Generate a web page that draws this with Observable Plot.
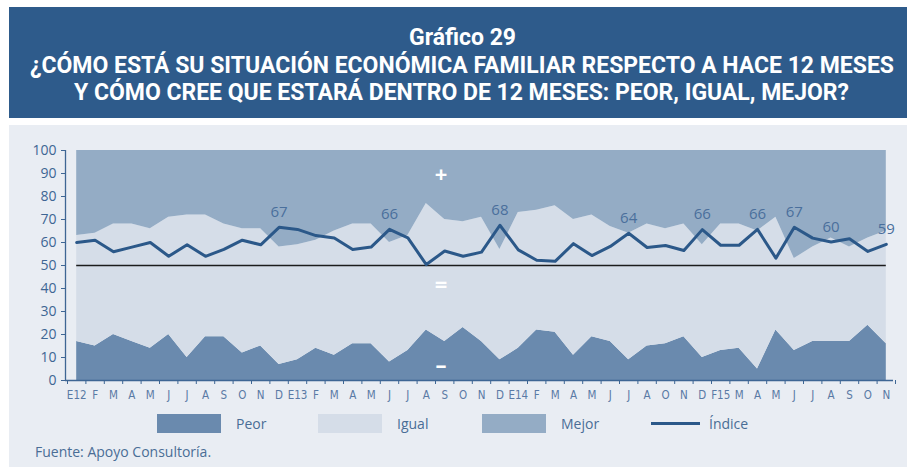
<!DOCTYPE html>
<html>
<head>
<meta charset="utf-8">
<script src="https://cdn.jsdelivr.net/npm/d3@7"></script>
<script src="https://cdn.jsdelivr.net/npm/@observablehq/plot@0.6"></script>
<style>
  html, body { margin: 0; padding: 0; background: #ffffff; }
  body { width: 907px; height: 467px; position: relative; overflow: hidden; font-family: "Open Sans", sans-serif; }
  #header { position: absolute; left: 0; top: 0; }
  #panel { position: absolute; left: 9px; top: 125px; width: 898px; height: 342px; background: #e9edf3; }
  #chart { position: absolute; left: 0; top: 124px; }
  #legend { position: absolute; left: 0; top: 414px; width: 907px; height: 20px; font-size: 14px; color: #4a6d96; }
  .sw { position: absolute; top: 0; width: 64px; height: 19px; }
  .lt { position: absolute; top: 0; line-height: 19px; }
  .ln { position: absolute; top: 8px; width: 49px; height: 3px; background: #2b5889; }
  #source { position: absolute; left: 35px; top: 442px; font-size: 14px; color: #4a6d96; }
</style>
</head>
<body>
<svg id="header" width="907" height="124" xmlns="http://www.w3.org/2000/svg">
  <rect x="9" y="7" width="898" height="111" fill="#2e5b8b"></rect>
  <g fill="#ffffff" font-family="Roboto, Open Sans, sans-serif" font-weight="bold" font-size="23">
    <text x="462.5" y="45" text-anchor="middle" textLength="107" lengthAdjust="spacingAndGlyphs">Gráfico 29</text>
    <text x="462" y="73" text-anchor="middle" textLength="864" lengthAdjust="spacingAndGlyphs">¿CÓMO ESTÁ SU SITUACIÓN ECONÓMICA FAMILIAR RESPECTO A HACE 12 MESES</text>
    <text x="461.5" y="100" text-anchor="middle" textLength="775" lengthAdjust="spacingAndGlyphs">Y CÓMO CREE QUE ESTARÁ DENTRO DE 12 MESES: PEOR, IGUAL, MEJOR?</text>
  </g>
</svg>
<div id="panel"></div>
<div id="chart"></div>
<div id="legend"></div>
<div id="source">Fuente: Apoyo Consultoría.</div>
<script>
// Month labels (2014 has no September, 2015 has no January)
const months = ["E12","F","M","A","M","J","J","A","S","O","N","D",
  "E13","F","M","A","M","J","J","A","S","O","N","D",
  "E14","F","M","A","M","J","J","A","O","N","D",
  "F15","M","A","M","J","J","A","S","O","N"];

const peor = [17,15,20,17,14,20,10,19,19,12,15,7,
  9,14,11,16,16,8,13,22,17,23,17,9,
  14,22,21,11,19,17,9,15,16,19,10,
  13,14,5,22,13,17,17,17,24,16];

const igual = [46,49,48,51,52,51,62,53,49,54,51,51,
  50,47,54,52,52,52,50,55,53,46,54,48,
  59,52,55,59,53,50,55,53,50,49,49,
  55,54,60,49,40,41,45,41,38,49];

const mejor = [37,36,32,32,34,29,28,28,32,34,34,42,
  41,39,35,32,32,40,37,23,30,31,29,43,
  27,26,24,30,28,33,36,32,34,32,41,
  32,32,35,29,47,42,38,42,38,35];

const indice = [60,61,56,58,60,54,59,54,57,61,59,66.6,
  65.7,63,62,57,58,65.7,62,50.4,56.3,54,55.8,67.5,
  56.8,52.3,51.8,59.5,54.3,58.3,64,57.8,58.7,56.5,65.6,
  58.8,58.8,65.7,53.2,66.6,61.9,60.2,61.6,56.1,59.2];

// indices of months whose índice value is labelled
const labelledMonths = [11,17,23,30,34,37,39,41,44];

const yTicks = [0,10,20,30,40,50,60,70,80,90,100];
const neutralLine = 50;

// white zone markers (x as month index, y in %)
const zoneMarks = [
  {i: 19.8, v: 89.5, t: "+"},
  {i: 19.8, v: 41.5, t: "="},
  {i: 19.8, v: 6.5, t: "–"}
];

const series = ["Peor","Igual","Mejor"];
const colors = ["#6a8aae","#d5dde8","#94acc5"];
const lineColor = "#2b5889";

const stacked = [];
[peor, igual, mejor].forEach((arr, s) => arr.forEach((v, i) => stacked.push({i, v, serie: series[s]})));
const idx = indice.map((v, i) => ({i, v}));
const lab = labelledMonths.map(i => ({i, v: indice[i], t: String(Math.round(indice[i]))}));
const n = months.length;
const edges = d3.range(n + 1).map(k => k - 0.5);

const axisColor = "#3e6694";

const chart = Plot.plot({
  width: 907,
  height: 290,
  marginLeft: 67,
  marginRight: 12,
  marginTop: 26,
  marginBottom: 34,
  style: {background: "transparent", fontFamily: "Open Sans, sans-serif", overflow: "visible"},
  x: {domain: [-0.5, n - 0.5], axis: null},
  y: {domain: [0, 100], axis: null},
  color: {domain: series, range: colors},
  marks: [
    Plot.areaY(stacked, {x: "i", y: "v", fill: "serie", z: "serie", curve: "linear"}),
    Plot.ruleY([neutralLine], {x1: 0, x2: n - 1, stroke: "#1c1c1c", strokeWidth: 1.4}),
    Plot.text(zoneMarks, {x: "i", y: "v", text: "t", fill: "white", fontSize: 22, fontWeight: "bold"}),
    Plot.line(idx, {x: "i", y: "v", stroke: lineColor, strokeWidth: 3, curve: "linear"}),
    Plot.text(lab, {x: "i", y: "v", text: "t", dy: -15, fill: "#4a6f9c", fontSize: 15}),
    Plot.ruleX([-0.5], {y1: 0, y2: 100, dx: -2, stroke: axisColor, strokeWidth: 1.3}),
    Plot.ruleY([0], {x1: -0.5, x2: n - 0.5, dx: -2, stroke: axisColor, strokeWidth: 1.3}),
    Plot.axisY({ticks: yTicks, tickSize: 4, tickPadding: 5, dx: -2, fontSize: 14, color: axisColor, stroke: axisColor, label: null}),
    Plot.axisX({ticks: edges, tickFormat: () => "", tickSize: 4, stroke: axisColor, color: axisColor, label: null}),
    Plot.axisX({ticks: d3.range(n), tickFormat: i => months[i], tickSize: 0, tickPadding: 10, label: null,
      fontSize: 11.5, color: "#5a7aa5", fontFamily: "Liberation Sans Narrow, DejaVu Sans Condensed, sans-serif"})
  ]
});
document.getElementById("chart").appendChild(chart);

// legend
const legend = document.getElementById("legend");
const items = [
  {name: "Peor", sw: 157, tx: 236},
  {name: "Igual", sw: 318, tx: 397},
  {name: "Mejor", sw: 482, tx: 561}
];
items.forEach((it, k) => {
  const s = document.createElement("div"); s.className = "sw"; s.style.left = it.sw + "px"; s.style.background = colors[k];
  const t = document.createElement("div"); t.className = "lt"; t.style.left = it.tx + "px"; t.textContent = it.name;
  legend.appendChild(s); legend.appendChild(t);
});
const ln = document.createElement("div"); ln.className = "ln"; ln.style.left = "651px"; legend.appendChild(ln);
const lt = document.createElement("div"); lt.className = "lt"; lt.style.left = "709px"; lt.textContent = "Índice"; legend.appendChild(lt);
</script>
</body>
</html>
